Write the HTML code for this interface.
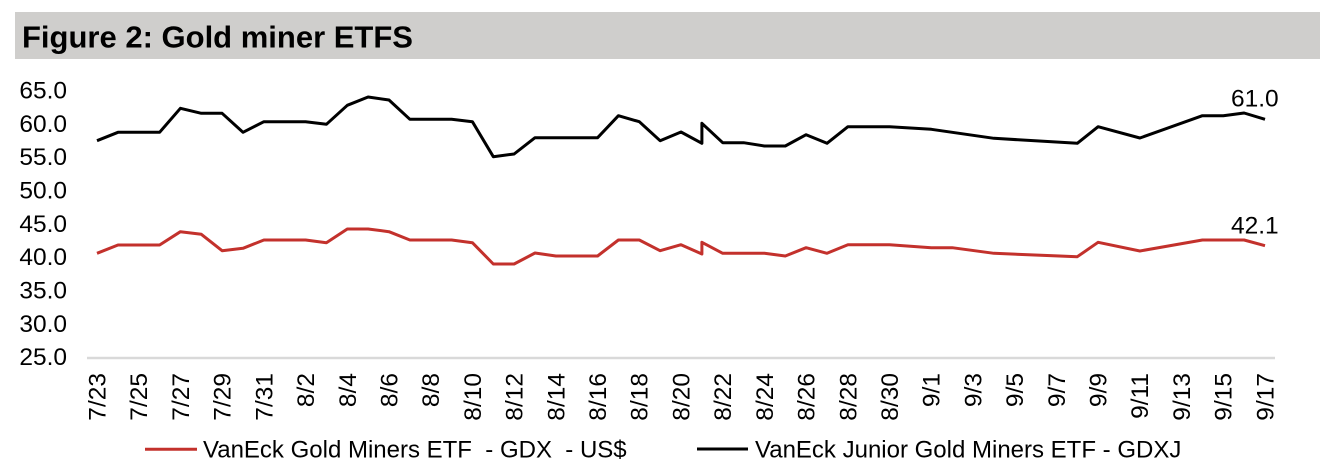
<!DOCTYPE html>
<html>
<head>
<meta charset="utf-8">
<style>
html,body{margin:0;padding:0;background:#fff;}
svg{display:block;}
text{font-family:"Liberation Sans",Arial,sans-serif;fill:#000;}
</style>
</head>
<body>
<svg width="1333" height="473" viewBox="0 0 1333 473" xmlns="http://www.w3.org/2000/svg">
<rect x="15" y="12" width="1305" height="47" fill="#cfcecc"/>
<text x="22" y="47.5" font-size="31" font-weight="bold">Figure 2: Gold miner ETFS</text>

<g font-size="24.5" text-anchor="end">
<text x="67" y="98.5">65.0</text>
<text x="67" y="131.8">60.0</text>
<text x="67" y="165.2">55.0</text>
<text x="67" y="198.5">50.0</text>
<text x="67" y="231.8">45.0</text>
<text x="67" y="265.2">40.0</text>
<text x="67" y="298.5">35.0</text>
<text x="67" y="331.8">30.0</text>
<text x="67" y="365.2">25.0</text>
</g>

<line x1="87" y1="358" x2="1275" y2="358" stroke="#d9d9d9" stroke-width="2.5"/>

<g font-size="24.5" text-anchor="end">
<text transform="translate(105.5,373) rotate(-90)">7/23</text>
<text transform="translate(147.2,373) rotate(-90)">7/25</text>
<text transform="translate(188.9,373) rotate(-90)">7/27</text>
<text transform="translate(230.6,373) rotate(-90)">7/29</text>
<text transform="translate(272.3,373) rotate(-90)">7/31</text>
<text transform="translate(314.1,373) rotate(-90)">8/2</text>
<text transform="translate(355.8,373) rotate(-90)">8/4</text>
<text transform="translate(397.5,373) rotate(-90)">8/6</text>
<text transform="translate(439.2,373) rotate(-90)">8/8</text>
<text transform="translate(480.9,373) rotate(-90)">8/10</text>
<text transform="translate(522.6,373) rotate(-90)">8/12</text>
<text transform="translate(564.3,373) rotate(-90)">8/14</text>
<text transform="translate(606.0,373) rotate(-90)">8/16</text>
<text transform="translate(647.7,373) rotate(-90)">8/18</text>
<text transform="translate(689.4,373) rotate(-90)">8/20</text>
<text transform="translate(731.1,373) rotate(-90)">8/22</text>
<text transform="translate(772.9,373) rotate(-90)">8/24</text>
<text transform="translate(814.6,373) rotate(-90)">8/26</text>
<text transform="translate(856.3,373) rotate(-90)">8/28</text>
<text transform="translate(898.0,373) rotate(-90)">8/30</text>
<text transform="translate(939.7,373) rotate(-90)">9/1</text>
<text transform="translate(981.4,373) rotate(-90)">9/3</text>
<text transform="translate(1023.1,373) rotate(-90)">9/5</text>
<text transform="translate(1064.8,373) rotate(-90)">9/7</text>
<text transform="translate(1106.5,373) rotate(-90)">9/9</text>
<text transform="translate(1148.2,373) rotate(-90)">9/11</text>
<text transform="translate(1189.9,373) rotate(-90)">9/13</text>
<text transform="translate(1231.7,373) rotate(-90)">9/15</text>
<text transform="translate(1273.4,373) rotate(-90)">9/17</text>
</g>

<polyline fill="none" stroke="#000" stroke-width="3" stroke-linejoin="round" points="97,140.7 118,132.3 159.6,132.3 180.4,108.3 201.3,113.3 222.1,113.3 243,132.3 263.9,121.7 305.6,121.7 326.4,124.3 347.3,105.3 368.1,97 389,100 409.9,119.3 451.6,119.3 472.4,121.7 493.3,156.7 514.1,154 535,137.7 597.6,137.7 618.4,115.7 639.3,121.7 660.1,140.7 681,132 701.9,143.3 701.9,123.3 722.7,142.7 743.6,142.7 764.4,146 785.3,146 806.1,134.7 827,143.3 847.9,126.7 889.6,126.7 931.3,129.3 993.9,138.3 1077.3,143.3 1098.1,126.7 1139.9,138 1202.4,115.7 1223.3,115.7 1244.1,113 1265,119.3"/>

<polyline fill="none" stroke="#c3312c" stroke-width="3" stroke-linejoin="round" points="97,253.3 118,245 159.6,245 180.4,231.7 201.3,234.3 222.1,250.7 243,248.3 263.9,240 305.6,240 326.4,242.7 347.3,229 368.1,229 389,231.7 409.9,240 451.6,240 472.4,242.7 493.3,264 514.1,264 535,253 555.9,256 597.6,256 618.4,240 639.3,240 660.1,250.7 681,244.7 701.9,254 701.9,242.3 722.7,253.3 764.4,253.3 785.3,256 806.1,247.7 827,253.3 847.9,244.7 889.6,244.7 931.3,247.7 952.2,247.7 993.9,253.3 1077.3,256.7 1098.1,242.3 1139.9,251 1202.4,240 1244.1,240 1265,245.7"/>

<text x="1231" y="106.5" font-size="24.5">61.0</text>
<text x="1231" y="233.5" font-size="24.5">42.1</text>

<line x1="145" y1="449.3" x2="197" y2="449.3" stroke="#c3312c" stroke-width="3"/>
<text x="203" y="457.5" font-size="24" xml:space="preserve">VanEck Gold Miners ETF  - GDX  - US$</text>
<line x1="697" y1="449" x2="748" y2="449" stroke="#000" stroke-width="3"/>
<text x="755" y="457.5" font-size="24">VanEck Junior Gold Miners ETF - GDXJ</text>
</svg>
</body>
</html>
